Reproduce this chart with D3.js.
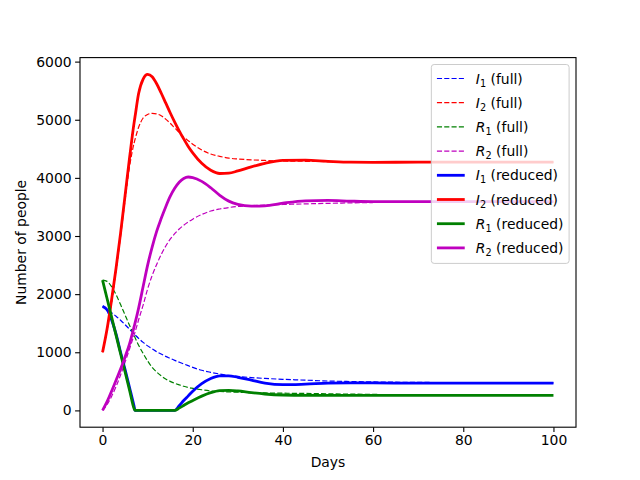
<!DOCTYPE html>
<html>
<head>
<meta charset="utf-8">
<script src="https://cdn.jsdelivr.net/npm/d3@7"></script>
<style>
  body { margin: 0; background: #fff; }
  svg { font-family: "DejaVu Sans", sans-serif; }
</style>
</head>
<body>
<div id="chart"></div>
<script>
// values
var days = [0, 1, 2, 3, 4, 5, 6, 7, 7.2, 8, 9, 10, 11, 12, 13, 14, 15, 16, 17, 18, 19, 20,
            22, 24, 26, 28, 30, 33, 36, 40, 45, 50, 55, 60, 70, 80, 90, 100];

var i1Full = [1790, 1740, 1680, 1620, 1550, 1475, 1395, 1315, 1300, 1240, 1170, 1110, 1060, 1010, 970, 930, 895, 860, 830, 800, 770, 740,
              690, 655, 625, 600, 585, 565, 550, 535, 520, 505, 497, 490, 482, 477, 474, 472];
var i2Full = [1000, 1380, 1850, 2400, 3000, 3620, 4200, 4600, 4660, 4870, 5030, 5090, 5110, 5100, 5070, 5010, 4940, 4860, 4780, 4700, 4640, 4580,
              4480, 4410, 4370, 4340, 4325, 4310, 4300, 4290, 4285, 4280, 4277, 4275, 4272, 4270, 4270, 4270];
var r1Full = [2240, 2220, 2130, 1990, 1820, 1640, 1460, 1290, 1255, 1120, 980, 850, 740, 660, 595, 540, 500, 465, 440, 415, 395, 380,
              355, 335, 325, 318, 312, 305, 300, 296, 292, 285, 280, 275, 270, 267, 265, 264];
var r2Full = [0, 100, 240, 410, 610, 830, 1060, 1300, 1345, 1560, 1810, 2090, 2320, 2510, 2680, 2825, 2945, 3040, 3120, 3185, 3240, 3290,
              3370, 3430, 3465, 3490, 3508, 3522, 3532, 3542, 3552, 3562, 3570, 3576, 3583, 3587, 3589, 3590];

var i1Reduced = [1790, 1730, 1560, 1310, 1000, 700, 390, 70, 0, 0, 0, 0, 0, 0, 0, 0, 0, 0, 80, 170, 250, 330,
                 460, 550, 595, 595, 570, 520, 470, 442, 452, 468, 473, 472, 470, 470, 470, 470];
var i2Reduced = [1000, 1400, 1900, 2450, 3050, 3700, 4350, 4950, 5050, 5450, 5700, 5780, 5740, 5620, 5460, 5290, 5120, 4960, 4810, 4670, 4540, 4430,
                 4250, 4130, 4075, 4080, 4120, 4190, 4250, 4300, 4305, 4285, 4270, 4268, 4270, 4270, 4270, 4270];
var r1Reduced = [2240, 1925, 1610, 1290, 975, 660, 345, 30, 0, 0, 0, 0, 0, 0, 0, 0, 0, 0, 40, 85, 130, 170,
                 245, 305, 340, 345, 335, 305, 282, 265, 260, 260, 260, 260, 260, 260, 260, 260];
var r2Reduced = [0, 150, 330, 520, 710, 920, 1150, 1440, 1500, 1760, 2130, 2500, 2810, 3080, 3300, 3500, 3680, 3820, 3925, 3990, 4015, 4005,
                 3940, 3830, 3700, 3600, 3545, 3515, 3520, 3565, 3605, 3612, 3600, 3592, 3590, 3590, 3590, 3590];

var xTicks = [0, 20, 40, 60, 80, 100];
var yTicks = [0, 1000, 2000, 3000, 4000, 5000, 6000];

var seriesNames = ["I|1|full", "I|2|full", "R|1|full", "R|2|full",
                   "I|1|reduced", "I|2|reduced", "R|1|reduced", "R|2|reduced"];
var seriesValues = [i1Full, i2Full, r1Full, r2Full, i1Reduced, i2Reduced, r1Reduced, r2Reduced];
var seriesColors = ["#0000ff", "#ff0000", "#008000", "#bf00bf",
                    "#0000ff", "#ff0000", "#008000", "#bf00bf"];

var W = 640, H = 480;
var axLeft = 80, axRight = 576, axTop = 57.6, axBottom = 427.2;
var fs = 13.9;

var svg = d3.select("#chart").append("svg")
    .attr("width", W).attr("height", H);

// matplotlib-like 5% margins
var allY = [].concat.apply([], seriesValues);
var yMin = d3.min(allY), yMax = d3.max(allY);
var yPad = (yMax - yMin) * 0.05;
var xPad = (d3.max(days) - d3.min(days)) * 0.05;

var x = d3.scaleLinear().domain([d3.min(days) - xPad, d3.max(days) + xPad]).range([axLeft, axRight]);
var y = d3.scaleLinear().domain([yMin - yPad, yMax + yPad]).range([axBottom, axTop]);

var line = d3.line()
    .x(function(d) { return x(d[0]); })
    .y(function(d) { return y(d[1]); })
    .curve(d3.curveMonotoneX);

svg.append("clipPath").attr("id", "clip")
  .append("rect").attr("x", axLeft).attr("y", axTop)
  .attr("width", axRight - axLeft).attr("height", axBottom - axTop);

var plot = svg.append("g").attr("clip-path", "url(#clip)");

seriesValues.forEach(function(vals, i) {
    var full = i < 4;
    plot.append("path")
        .datum(days.map(function(t, k) { return [t, vals[k]]; }))
        .attr("fill", "none")
        .attr("stroke", seriesColors[i])
        .attr("stroke-width", full ? 1.2 : 2.8)
        .attr("stroke-dasharray", full ? "5.1,2.2" : null)
        .attr("stroke-linejoin", "round")
        .attr("d", line);
});

// axes
var xAxis = svg.append("g")
    .attr("transform", "translate(0," + axBottom + ")")
    .call(d3.axisBottom(x).tickValues(xTicks).tickSize(4.9).tickPadding(3.5).tickFormat(d3.format("d")));
var yAxis = svg.append("g")
    .attr("transform", "translate(" + axLeft + ",0)")
    .call(d3.axisLeft(y).tickValues(yTicks).tickSize(4.9).tickPadding(3.5).tickFormat(d3.format("d")));

[xAxis, yAxis].forEach(function(a) {
    a.select(".domain").remove();
    a.selectAll("line").attr("stroke", "#000").attr("stroke-width", 1.1);
    a.selectAll("text").attr("font-family", "DejaVu Sans").attr("font-size", fs).attr("fill", "#000");
});

svg.append("rect")
    .attr("x", axLeft).attr("y", axTop)
    .attr("width", axRight - axLeft).attr("height", axBottom - axTop)
    .attr("fill", "none").attr("stroke", "#000").attr("stroke-width", 1.1);

svg.append("text")
    .attr("x", (axLeft + axRight) / 2).attr("y", 467)
    .attr("text-anchor", "middle")
    .attr("font-size", fs)
    .text("Days");

svg.append("text")
    .attr("transform", "translate(26," + ((axTop + axBottom) / 2) + ") rotate(-90)")
    .attr("text-anchor", "middle")
    .attr("font-size", fs)
    .text("Number of people");

// legend
var legend = svg.append("g");
var box = legend.append("rect")
    .attr("fill", "#fff").attr("fill-opacity", 0.8)
    .attr("stroke", "#cccccc").attr("stroke-width", 1)
    .attr("rx", 2.8).attr("ry", 2.8);

var rowH = 24.2, firstRow = 78.5;
var labels = [];
seriesNames.forEach(function(name, i) {
    var parts = name.split("|");
    var cy = firstRow + i * rowH;
    legend.append("line")
        .attr("class", "lg-line")
        .attr("y1", cy).attr("y2", cy)
        .attr("stroke", seriesColors[i])
        .attr("stroke-width", i < 4 ? 1.2 : 2.8)
        .attr("stroke-dasharray", i < 4 ? "5.1,2.2" : null);
    var t = legend.append("text")
        .attr("y", cy + 5)
        .attr("font-size", fs);
    t.append("tspan").attr("font-style", "italic").text(parts[0]);
    t.append("tspan").attr("font-size", fs * 0.7).attr("dy", 3).text(parts[1]);
    t.append("tspan").attr("dy", -3).text("\u00a0(" + parts[2] + ")");
    labels.push(t);
});

var maxW = d3.max(labels, function(t) { return t.node().getComputedTextLength(); });
var boxRight = axRight - 6.9;
var boxW = 5.6 + 27.8 + 11.1 + maxW + 5.6;
var boxLeft = boxRight - boxW;
var boxTop = axTop + 6.9;
var boxBottom = firstRow + 7 * rowH + 15.5;

box.attr("x", boxLeft).attr("y", boxTop)
   .attr("width", boxW).attr("height", boxBottom - boxTop);
legend.selectAll(".lg-line")
    .attr("x1", boxLeft + 5.6).attr("x2", boxLeft + 5.6 + 27.8);
labels.forEach(function(t) { t.attr("x", boxLeft + 5.6 + 27.8 + 11.1); });
</script>
</body>
</html>
